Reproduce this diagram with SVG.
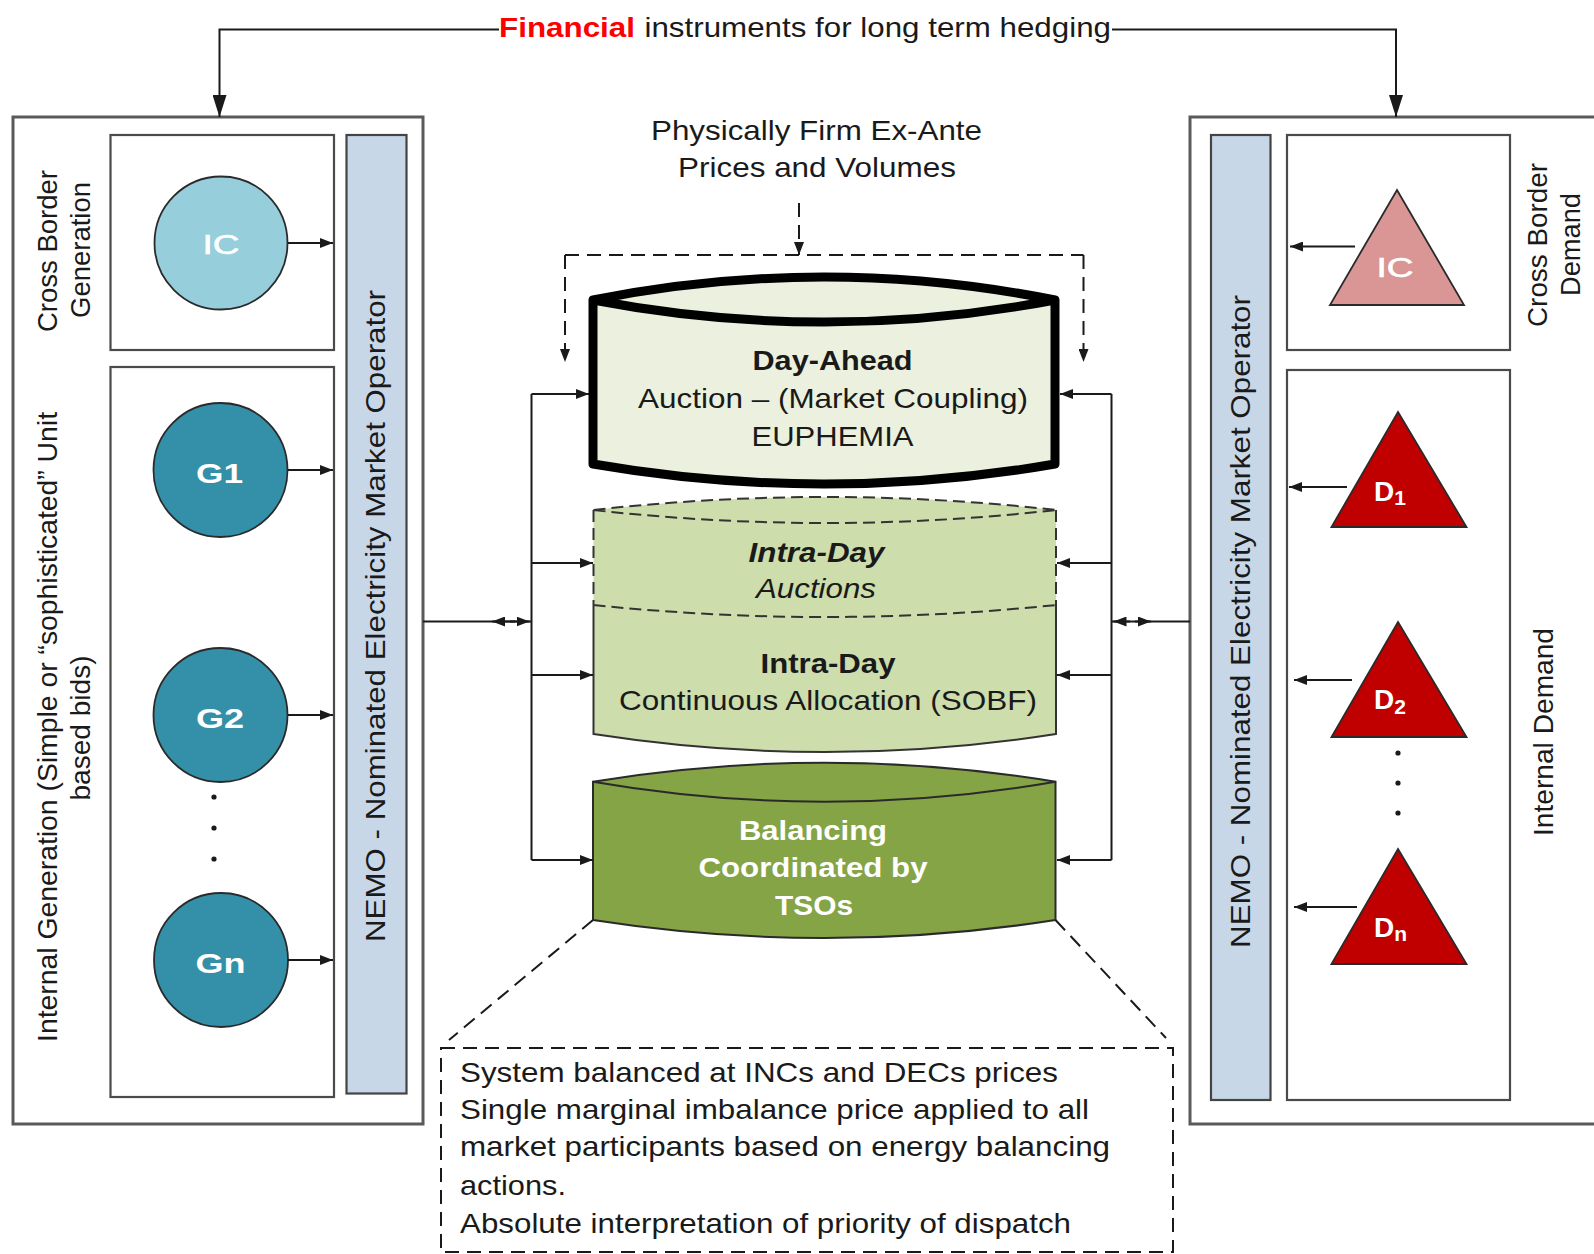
<svg xmlns="http://www.w3.org/2000/svg" width="1594" height="1254" viewBox="0 0 1594 1254">
<style>
.t{font-family:"Liberation Sans",Arial,sans-serif;font-size:28px;fill:#1a1a1a}
.c{text-anchor:middle}
.b{font-weight:bold}
.i{font-style:italic}
.w{fill:#ffffff}
.ln{fill:none;stroke:#1a1a1a;stroke-width:2}
.dl{fill:none;stroke:#1a1a1a;stroke-width:2;stroke-dasharray:14 8}
.ob{fill:#ffffff;stroke:#5a5a5a;stroke-width:3}
.ib{fill:#ffffff;stroke:#4a4a4a;stroke-width:2.2}
.bar{fill:#C8D7E8;stroke:#444444;stroke-width:2.2}
.nd{stroke:#2a2a2a;stroke-width:1.8}
</style>
<defs>
<marker id="big" markerUnits="userSpaceOnUse" markerWidth="22" markerHeight="14" refX="22" refY="7" orient="auto"><path d="M0,0 L22,7 L0,14 Z" fill="#1a1a1a"/></marker>
<marker id="sm" markerUnits="userSpaceOnUse" markerWidth="13" markerHeight="10" refX="13" refY="5" orient="auto"><path d="M0,0 L13,5 L0,10 Z" fill="#1a1a1a"/></marker>
</defs>
<rect width="1594" height="1254" fill="#ffffff"/>

<g id="left-frame">
<rect class="ob" x="13" y="117" width="410" height="1007"/>
<rect class="ib" x="110.5" y="135" width="223.5" height="215"/>
<rect class="ib" x="110.5" y="367" width="223.5" height="730"/>
<text class="t" transform="translate(57,251) rotate(-90)" text-anchor="middle" textLength="162" lengthAdjust="spacingAndGlyphs">Cross Border</text>
<text class="t" transform="translate(90,250) rotate(-90)" text-anchor="middle" textLength="136" lengthAdjust="spacingAndGlyphs">Generation</text>
<text class="t" transform="translate(57,727) rotate(-90)" text-anchor="middle" textLength="630" lengthAdjust="spacingAndGlyphs">Internal Generation (Simple or “sophisticated” Unit</text>
<text class="t" transform="translate(90,728) rotate(-90)" text-anchor="middle" textLength="145" lengthAdjust="spacingAndGlyphs">based bids)</text>
</g>
<g id="left-nemo">
<rect class="bar" x="346.5" y="135" width="60" height="958.5"/>
<text class="t" transform="translate(385,616) rotate(-90)" text-anchor="middle" textLength="652" lengthAdjust="spacingAndGlyphs">NEMO - Nominated Electricity Market Operator</text>
</g>
<g id="gen-ic">
<circle class="nd" cx="221" cy="243" r="66.5" fill="#96CEDC"/>
<text class="t c w" x="221" y="254" font-size="37" textLength="37" lengthAdjust="spacingAndGlyphs" style="stroke:#ffffff;stroke-width:0.6">IC</text>
</g>
<g id="gen-g1">
<circle class="nd" cx="220.5" cy="470" r="67" fill="#3490A8"/>
<text class="t c w b" x="219.5" y="483" font-size="37" textLength="47" lengthAdjust="spacingAndGlyphs">G1</text>
</g>
<g id="gen-g2">
<circle class="nd" cx="220.5" cy="715" r="67" fill="#3490A8"/>
<text class="t c w b" x="220" y="728" font-size="37" textLength="48" lengthAdjust="spacingAndGlyphs">G2</text>
</g>
<g id="gen-gn">
<circle class="nd" cx="221" cy="960" r="67" fill="#3490A8"/>
<text class="t c w b" x="220.5" y="973" font-size="37" textLength="50" lengthAdjust="spacingAndGlyphs">Gn</text>
</g>
<g id="gen-dots" fill="#1a1a1a">
<circle cx="214" cy="797" r="2.6"/><circle cx="214" cy="828" r="2.6"/><circle cx="214" cy="859" r="2.6"/>
</g>

<g id="right-frame">
<rect class="ob" x="1190" y="117" width="420" height="1007"/>
<rect class="ib" x="1287" y="135" width="223" height="215"/>
<rect class="ib" x="1287" y="370" width="223" height="730"/>
<text class="t" transform="translate(1547,245) rotate(-90)" text-anchor="middle" textLength="164" lengthAdjust="spacingAndGlyphs">Cross Border</text>
<text class="t" transform="translate(1580,244.5) rotate(-90)" text-anchor="middle" textLength="103" lengthAdjust="spacingAndGlyphs">Demand</text>
<text class="t" transform="translate(1553,732) rotate(-90)" text-anchor="middle" textLength="208" lengthAdjust="spacingAndGlyphs">Internal Demand</text>
</g>
<g id="right-nemo">
<rect class="bar" x="1211" y="135" width="59.5" height="965"/>
<text class="t" transform="translate(1250,621.5) rotate(-90)" text-anchor="middle" textLength="653" lengthAdjust="spacingAndGlyphs">NEMO - Nominated Electricity Market Operator</text>
</g>
<g id="dem-ic">
<path class="nd" d="M1397,190 L1464,305 L1330,305 Z" fill="#D99694"/>
<text class="t c w" x="1395" y="277" font-size="37" textLength="37" lengthAdjust="spacingAndGlyphs" style="stroke:#ffffff;stroke-width:0.6">IC</text>
</g>
<g id="dem-d1">
<path class="nd" d="M1398,412 L1466.5,527 L1331.5,527 Z" fill="#C00000"/>
<text class="t w b" x="1374" y="501" font-size="34">D<tspan font-size="21" dy="4">1</tspan></text>
</g>
<g id="dem-d2">
<path class="nd" d="M1398,622 L1466.5,737 L1331.5,737 Z" fill="#C00000"/>
<text class="t w b" x="1374" y="709" font-size="34">D<tspan font-size="21" dy="5">2</tspan></text>
</g>
<g id="dem-dn">
<path class="nd" d="M1398,849 L1466.5,964 L1331.5,964 Z" fill="#C00000"/>
<text class="t w b" x="1374" y="937" font-size="34">D<tspan font-size="21" dy="4">n</tspan></text>
</g>
<g id="dem-dots" fill="#1a1a1a">
<circle cx="1398" cy="753" r="2.6"/><circle cx="1398" cy="783" r="2.6"/><circle cx="1398" cy="813" r="2.6"/>
</g>

<g id="title">
<text class="t b" x="499" y="37" style="fill:#FF0000" textLength="136" lengthAdjust="spacingAndGlyphs">Financial</text>
<text class="t" x="644.5" y="37" textLength="466.5" lengthAdjust="spacingAndGlyphs">instruments for long term hedging</text>
</g>
<g id="firm-label">
<text class="t c" x="816.5" y="140" textLength="331" lengthAdjust="spacingAndGlyphs">Physically Firm Ex-Ante</text>
<text class="t c" x="817" y="177" textLength="278" lengthAdjust="spacingAndGlyphs">Prices and Volumes</text>
</g>

<g id="day-ahead">
<path d="M593,300 Q824,254 1055,300 V464 Q824,504 593,464 Z" fill="#EBF1DE" stroke="#000" stroke-width="9" stroke-linejoin="round"/>
<path d="M593,300 Q824,344 1055,300" fill="none" stroke="#000" stroke-width="9"/>
<text class="t c b" x="832.5" y="370" font-size="29" textLength="160" lengthAdjust="spacingAndGlyphs">Day-Ahead</text>
<text class="t c" x="833" y="408" textLength="390" lengthAdjust="spacingAndGlyphs">Auction – (Market Coupling)</text>
<text class="t c" x="832.5" y="446" textLength="162" lengthAdjust="spacingAndGlyphs">EUPHEMIA</text>
</g>

<g id="intra-day">
<path d="M593.5,510 Q825,484 1056,510 V734 Q825,770 593.5,734 Z" fill="#CDDDAC" stroke="none"/>
<path d="M593.5,510 Q825,484 1056,510 M593.5,510 Q825,536 1056,510 M593.5,510 V605 M1056,510 V605 M593.5,605 Q825,629 1056,605" fill="none" stroke="#333" stroke-width="2" stroke-dasharray="12 6"/>
<path d="M593.5,605 V734 Q825,770 1056,734 V605" fill="none" stroke="#333" stroke-width="2"/>
<text class="t c b i" x="816.5" y="562" textLength="136" lengthAdjust="spacingAndGlyphs">Intra-Day</text>
<text class="t c i" x="816" y="598" textLength="120" lengthAdjust="spacingAndGlyphs">Auctions</text>
<text class="t c b" x="828" y="673" textLength="135" lengthAdjust="spacingAndGlyphs">Intra-Day</text>
<text class="t c" x="828" y="710" textLength="418" lengthAdjust="spacingAndGlyphs">Continuous Allocation (SOBF)</text>
</g>

<g id="balancing">
<path d="M593,781.7 Q824.5,743.7 1055.5,781.7 V920 Q824.5,956 593,920 Z" fill="#84A446" stroke="#2a2a2a" stroke-width="2"/>
<path d="M593,781.7 Q824.5,821.7 1055.5,781.7" fill="none" stroke="#2a2a2a" stroke-width="2"/>
<text class="t c b w" x="813" y="840" font-size="27" textLength="148" lengthAdjust="spacingAndGlyphs">Balancing</text>
<text class="t c b w" x="813" y="877" font-size="27" textLength="229" lengthAdjust="spacingAndGlyphs">Coordinated by</text>
<text class="t c b w" x="814" y="915" font-size="27" textLength="78" lengthAdjust="spacingAndGlyphs">TSOs</text>
</g>

<g id="balancing-note">
<rect x="441" y="1048" width="732" height="204" fill="none" stroke="#1a1a1a" stroke-width="2" stroke-dasharray="14 8"/>
<text class="t" x="460" y="1081.7" textLength="598" lengthAdjust="spacingAndGlyphs">System balanced at INCs and DECs prices</text>
<text class="t" x="460" y="1118.5" textLength="629" lengthAdjust="spacingAndGlyphs">Single marginal imbalance price applied to all</text>
<text class="t" x="460" y="1156" textLength="650" lengthAdjust="spacingAndGlyphs">market participants based on energy balancing</text>
<text class="t" x="460" y="1195" textLength="106" lengthAdjust="spacingAndGlyphs">actions.</text>
<text class="t" x="460" y="1233" textLength="611" lengthAdjust="spacingAndGlyphs">Absolute interpretation of priority of dispatch</text>
</g>

<g id="connectors">
<path class="ln" d="M499,29.5 H219.5 V117" marker-end="url(#big)"/>
<path class="ln" d="M1112,29.5 H1396 V117" marker-end="url(#big)"/>
<path class="dl" d="M799,203 V255" marker-end="url(#sm)"/>
<path class="dl" d="M565,255 H1083.5"/>
<path class="dl" d="M565,255 V362" marker-end="url(#sm)"/>
<path class="dl" d="M1083.5,255 V362" marker-end="url(#sm)"/>
<path class="ln" d="M531.5,394 V860"/>
<path class="ln" d="M531.5,394 H589" marker-end="url(#sm)"/>
<path class="ln" d="M531.5,563 H593" marker-end="url(#sm)"/>
<path class="ln" d="M531.5,675 H593" marker-end="url(#sm)"/>
<path class="ln" d="M531.5,860 H593" marker-end="url(#sm)"/>
<path class="ln" d="M423,621.5 H531.5"/>
<path class="ln" d="M515,621.5 H492" marker-end="url(#sm)"/>
<path class="ln" d="M510,621.5 H529.5" marker-end="url(#sm)"/>
<path class="ln" d="M1111.5,394 V860"/>
<path class="ln" d="M1111.5,394 H1060" marker-end="url(#sm)"/>
<path class="ln" d="M1111.5,563 H1057" marker-end="url(#sm)"/>
<path class="ln" d="M1111.5,675 H1057" marker-end="url(#sm)"/>
<path class="ln" d="M1111.5,860 H1057" marker-end="url(#sm)"/>
<path class="ln" d="M1111.5,621.5 H1190"/>
<path class="ln" d="M1130,621.5 H1113.5" marker-end="url(#sm)"/>
<path class="ln" d="M1135,621.5 H1151" marker-end="url(#sm)"/>
<path class="ln" d="M288,243 H333" marker-end="url(#sm)"/>
<path class="ln" d="M288,470 H333" marker-end="url(#sm)"/>
<path class="ln" d="M288,715 H333" marker-end="url(#sm)"/>
<path class="ln" d="M288,960 H333" marker-end="url(#sm)"/>
<path class="ln" d="M1355,246.5 H1290" marker-end="url(#sm)"/>
<path class="ln" d="M1347,487 H1289" marker-end="url(#sm)"/>
<path class="ln" d="M1352,680 H1294" marker-end="url(#sm)"/>
<path class="ln" d="M1357,907 H1294" marker-end="url(#sm)"/>
<path class="dl" d="M593,920 L449,1040"/>
<path class="dl" d="M1055.5,920 L1166,1038"/>
</g>
</svg>
